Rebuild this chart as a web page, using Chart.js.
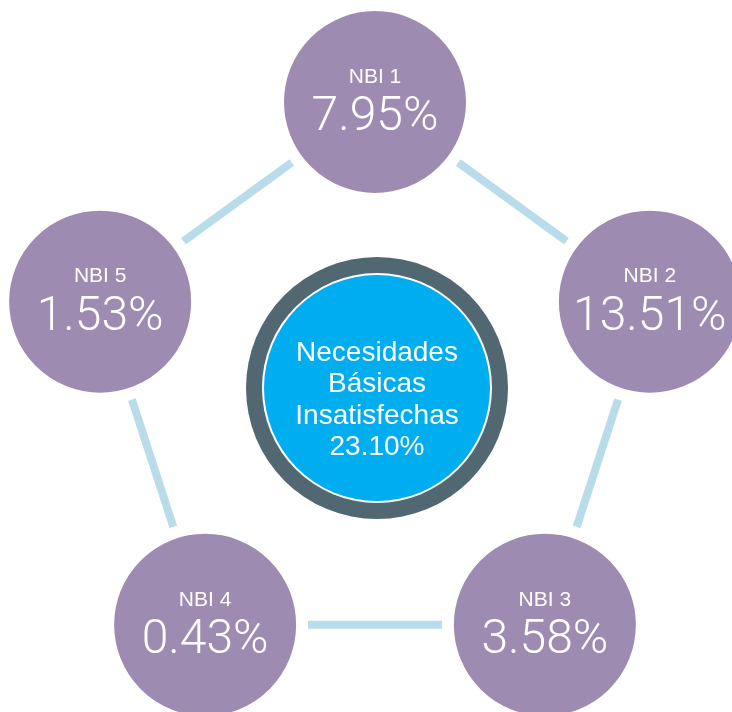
<!DOCTYPE html>
<html>
<head>
<meta charset="utf-8">
<script src="https://cdn.jsdelivr.net/npm/chart.js@4"></script>
<style>
  html, body { margin: 0; padding: 0; background: #fff; }
  #wrap { width: 732px; height: 712px; }
</style>
</head>
<body>
<div id="wrap"><canvas id="nbiChart"></canvas></div>
<script>
// Indicadores NBI, en el orden del pentágono (arriba, luego sentido horario)
const NBI_LABELS = ['NBI 1', 'NBI 2', 'NBI 3', 'NBI 4', 'NBI 5'];
const NBI_PCT = ['7.95%', '13.51%', '3.58%', '0.43%', '1.53%'];
const CENTER_LINES = ['Necesidades', 'Básicas', 'Insatisfechas', '23.10%'];

// every node sits on the same ring of the radial scale
const RING = [1, 1, 1, 1, 1];

const PURPLE = '#9e8bb1';
const LINK = '#b8dce9';
const RING_DARK = '#516873';
const CORE_BLUE = '#00aeef';

// Center disc + all the white texts, placed from the scale / point elements.
const nbiText = {
  id: 'nbiText',
  afterDatasetsDraw(chart) {
    const { ctx } = chart;
    const r = chart.scales.r;
    const cx = r.xCenter + 2;
    const cy = r.yCenter - 3;

    ctx.save();
    ctx.beginPath();
    ctx.arc(cx, cy, 131, 0, Math.PI * 2);
    ctx.fillStyle = RING_DARK;
    ctx.fill();
    ctx.beginPath();
    ctx.arc(cx, cy, 115, 0, Math.PI * 2);
    ctx.fillStyle = '#ffffff';
    ctx.fill();
    ctx.beginPath();
    ctx.arc(cx, cy, 113, 0, Math.PI * 2);
    ctx.fillStyle = CORE_BLUE;
    ctx.fill();

    ctx.fillStyle = '#ffffff';
    ctx.textAlign = 'center';
    ctx.textBaseline = 'middle';
    ctx.font = '28px "Liberation Sans", Arial, sans-serif';
    CENTER_LINES.forEach((line, i) => {
      ctx.fillText(line, cx, cy - 35 + i * 31.5);
    });

    const meta = chart.getDatasetMeta(0);
    meta.data.forEach((pt, i) => {
      ctx.font = '21px "Liberation Sans", Arial, sans-serif';
      ctx.fillText(NBI_LABELS[i], pt.x, pt.y - 25);
      ctx.font = '300 48px Roboto, "Liberation Sans", sans-serif';
      ctx.fillText(NBI_PCT[i], pt.x, pt.y + 16);
    });
    ctx.restore();
  },
};

new Chart(document.getElementById('nbiChart'), {
  type: 'radar',
  data: {
    labels: NBI_LABELS,
    datasets: [{
      data: RING,
      borderColor: LINK,
      borderWidth: 8,
      fill: false,
      tension: 0,
      clip: false,
      pointRadius: 97,
      pointHoverRadius: 97,
      pointBackgroundColor: PURPLE,
      pointBorderColor: '#ffffff',
      pointBorderWidth: 12,
    }],
  },
  options: {
    responsive: true,
    maintainAspectRatio: false,
    animation: false,
    events: [],
    layout: { padding: { left: 86, right: 68, top: 102, bottom: 32 } },
    plugins: { legend: { display: false }, tooltip: { enabled: false } },
    scales: {
      r: {
        min: 0,
        max: 1,
        ticks: { display: false },
        grid: { display: false },
        angleLines: { display: false },
        pointLabels: { display: false },
      },
    },
  },
  plugins: [nbiText],
});
</script>
</body>
</html>
